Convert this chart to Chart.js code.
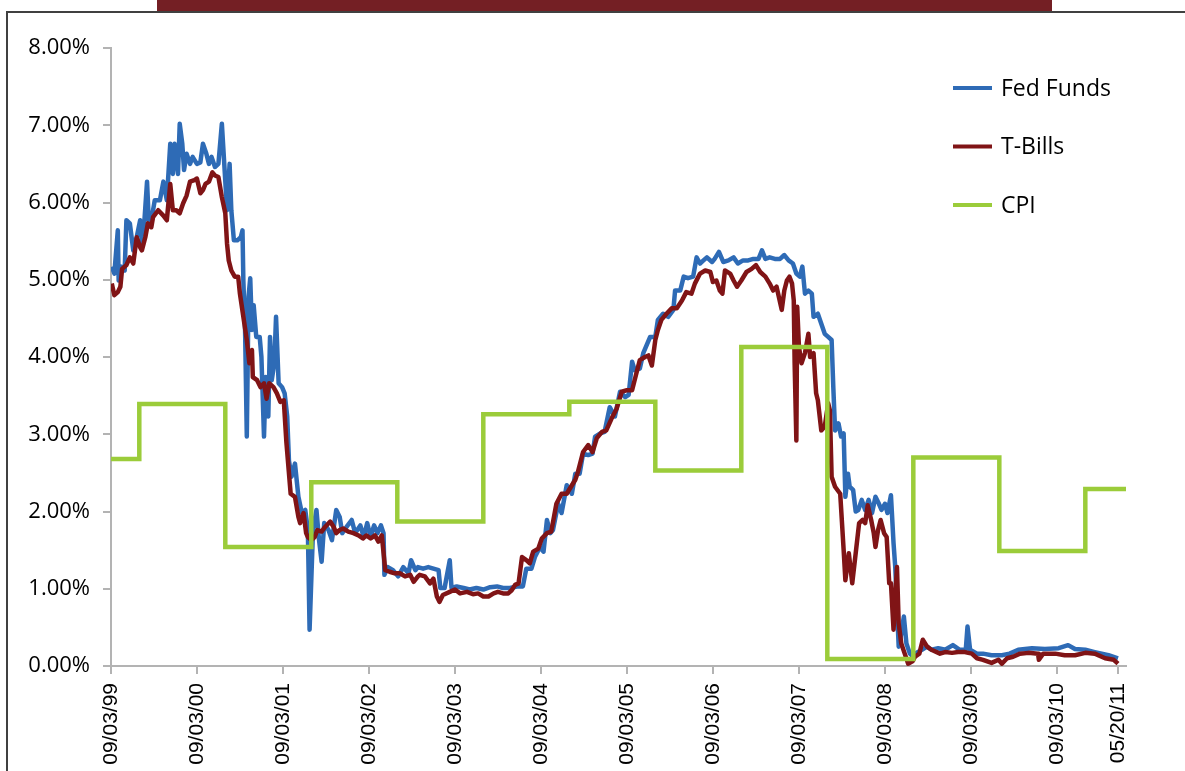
<!DOCTYPE html>
<html>
<head>
<meta charset="utf-8">
<title>Fed Funds, T-Bills and CPI</title>
<script src="https://cdn.jsdelivr.net/npm/chart.js@4.4.1/dist/chart.umd.min.js"></script>
<style>
  html, body { margin: 0; padding: 0; background: #fff; }
  #wrap { position: relative; width: 1185px; height: 771px; overflow: hidden; }
  #header { position: absolute; left: 157px; top: 0; width: 895px; height: 11px; background: #741f24; }
  #frame { position: absolute; left: 6px; top: 11px; width: 1200px; height: 800px;
           border-top: 2px solid #404040; border-left: 2px solid #404040; }
  #chart { position: absolute; left: 0; top: 0; }
</style>
</head>
<body>
<div id="wrap">
  <div id="header"></div>
  <div id="frame"></div>
  <canvas id="chart" width="1185" height="771"></canvas>
</div>
<script>
// time is in decimal years (09/03/99 = 1999.671)
const tickYears = [1999.671, 2000.671, 2001.671, 2002.671, 2003.671, 2004.671, 2005.671,
                   2006.671, 2007.671, 2008.671, 2009.671, 2010.671, 2011.381];
const tickLabels = ['09/03/99', '09/03/00', '09/03/01', '09/03/02', '09/03/03', '09/03/04', '09/03/05',
                    '09/03/06', '09/03/07', '09/03/08', '09/03/09', '09/03/10', '05/20/11'];

const fedYears = [
  1999.68, 1999.71, 1999.75, 1999.76, 1999.79, 1999.83, 1999.85, 1999.89, 1999.93, 1999.97,
  2000.01, 2000.03, 2000.06, 2000.09, 2000.11, 2000.14, 2000.18, 2000.24, 2000.28, 2000.32,
  2000.36, 2000.39, 2000.41, 2000.45, 2000.47, 2000.50, 2000.52, 2000.55, 2000.59, 2000.62,
  2000.67, 2000.71, 2000.74, 2000.78, 2000.81, 2000.84, 2000.88, 2000.92, 2000.96, 2000.99,
  2001.02, 2001.05, 2001.07, 2001.10, 2001.14, 2001.18, 2001.20, 2001.21, 2001.23, 2001.25,
  2001.27, 2001.29, 2001.31, 2001.33, 2001.36, 2001.40, 2001.42, 2001.45, 2001.47, 2001.50,
  2001.52, 2001.54, 2001.57, 2001.59, 2001.62, 2001.66, 2001.69, 2001.72, 2001.74, 2001.77,
  2001.81, 2001.85, 2001.89, 2001.93, 2001.96, 2001.98, 2002.02, 2002.06, 2002.09, 2002.12,
  2002.15, 2002.20, 2002.24, 2002.29, 2002.33, 2002.36, 2002.41, 2002.47, 2002.51, 2002.57,
  2002.61, 2002.65, 2002.69, 2002.73, 2002.77, 2002.81, 2002.84, 2002.85, 2002.89, 2002.95,
  2003.01, 2003.07, 2003.13, 2003.16, 2003.21, 2003.24, 2003.30, 2003.36, 2003.42, 2003.48,
  2003.50, 2003.55, 2003.61, 2003.63, 2003.69, 2003.77, 2003.84, 2003.92, 2004.00, 2004.08,
  2004.16, 2004.23, 2004.31, 2004.39, 2004.46, 2004.50, 2004.56, 2004.60, 2004.66, 2004.70,
  2004.74, 2004.78, 2004.81, 2004.87, 2004.91, 2004.97, 2005.03, 2005.07, 2005.12, 2005.16,
  2005.22, 2005.27, 2005.30, 2005.36, 2005.41, 2005.47, 2005.53, 2005.59, 2005.65, 2005.69,
  2005.73, 2005.76, 2005.82, 2005.86, 2005.94, 2006.00, 2006.03, 2006.09, 2006.15, 2006.21,
  2006.23, 2006.29, 2006.33, 2006.38, 2006.44, 2006.48, 2006.52, 2006.56, 2006.60, 2006.66,
  2006.69, 2006.74, 2006.79, 2006.85, 2006.91, 2006.96, 2007.02, 2007.08, 2007.14, 2007.20,
  2007.24, 2007.28, 2007.33, 2007.39, 2007.45, 2007.50, 2007.55, 2007.60, 2007.64, 2007.68,
  2007.71, 2007.74, 2007.78, 2007.82, 2007.84, 2007.89, 2007.93, 2007.97, 2008.01, 2008.05,
  2008.07, 2008.09, 2008.13, 2008.16, 2008.19, 2008.21, 2008.24, 2008.26, 2008.30, 2008.33,
  2008.36, 2008.40, 2008.44, 2008.48, 2008.52, 2008.56, 2008.60, 2008.63, 2008.67, 2008.70,
  2008.74, 2008.77, 2008.79, 2008.83, 2008.86, 2008.89, 2008.92, 2008.96, 2009.00, 2009.02,
  2009.10, 2009.16, 2009.21, 2009.29, 2009.37, 2009.46, 2009.54, 2009.61, 2009.63, 2009.66,
  2009.74, 2009.81, 2009.91, 2010.03, 2010.12, 2010.22, 2010.38, 2010.53, 2010.69, 2010.80,
  2010.88, 2011.00, 2011.11, 2011.19, 2011.27, 2011.38
];
const fedRates = [
  5.17, 5.08, 5.64, 4.99, 5.17, 5.12, 5.77, 5.73, 5.38, 5.55,
  5.77, 5.47, 5.77, 6.27, 5.77, 5.77, 6.03, 6.03, 6.27, 6.03,
  6.76, 6.37, 6.76, 6.37, 7.02, 6.76, 6.42, 6.63, 6.50, 6.59,
  6.50, 6.52, 6.76, 6.63, 6.50, 6.59, 6.46, 6.50, 7.02, 6.46,
  5.90, 6.50, 5.90, 5.51, 5.51, 5.55, 5.64, 4.99, 4.35, 2.97,
  4.78, 5.02, 4.35, 4.67, 4.26, 4.26, 4.00, 2.97, 3.74, 3.23,
  4.26, 3.70, 3.92, 4.52, 3.66, 3.61, 3.53, 3.23, 2.66, 2.45,
  2.62, 2.19, 1.98, 2.02, 1.76, 0.47, 1.76, 2.02, 1.63, 1.35,
  1.85, 1.76, 1.63, 2.02, 1.93, 1.72, 1.80, 1.89, 1.72, 1.82,
  1.67, 1.85, 1.67, 1.82, 1.72, 1.82, 1.72, 1.18, 1.28, 1.24,
  1.16, 1.28, 1.20, 1.37, 1.24, 1.28, 1.26, 1.28, 1.26, 1.24,
  1.01, 1.01, 1.37, 1.01, 1.03, 1.01, 0.99, 1.01, 0.99, 1.02,
  1.03, 1.01, 1.01, 1.03, 1.03, 1.26, 1.26, 1.41, 1.54, 1.48,
  1.89, 1.72, 1.76, 2.10, 1.98, 2.34, 2.23, 2.49, 2.49, 2.75,
  2.73, 2.75, 2.97, 3.01, 3.03, 3.35, 3.23, 3.55, 3.48, 3.51,
  3.94, 3.83, 3.85, 4.05, 4.26, 4.26, 4.48, 4.56, 4.52, 4.61,
  4.86, 4.86, 5.04, 5.02, 5.04, 5.29, 5.21, 5.25, 5.29, 5.23,
  5.27, 5.36, 5.23, 5.25, 5.29, 5.21, 5.25, 5.25, 5.27, 5.27,
  5.38, 5.27, 5.29, 5.27, 5.27, 5.32, 5.25, 5.21, 5.08, 5.04,
  5.17, 4.82, 4.86, 4.82, 4.52, 4.56, 4.43, 4.30, 4.26, 4.22,
  3.60, 3.05, 3.14, 2.97, 3.01, 2.19, 2.49, 2.32, 2.28, 2.00,
  2.02, 2.15, 2.02, 2.15, 1.98, 2.19, 2.10, 2.02, 2.10, 1.98,
  2.21, 1.59, 1.28, 0.25, 0.42, 0.64, 0.29, 0.16, 0.12, 0.16,
  0.21, 0.25, 0.21, 0.23, 0.21, 0.27, 0.21, 0.21, 0.51, 0.21,
  0.16, 0.16, 0.14, 0.14, 0.16, 0.21, 0.23, 0.22, 0.23, 0.27,
  0.22, 0.21, 0.18, 0.16, 0.14, 0.10
];

const tbillYears = [
  1999.68, 1999.71, 1999.75, 1999.78, 1999.80, 1999.85, 1999.89, 1999.93, 1999.97, 2000.01,
  2000.03, 2000.07, 2000.10, 2000.14, 2000.16, 2000.22, 2000.28, 2000.32, 2000.36, 2000.39,
  2000.43, 2000.47, 2000.51, 2000.55, 2000.59, 2000.64, 2000.67, 2000.71, 2000.74, 2000.77,
  2000.81, 2000.85, 2000.88, 2000.92, 2000.96, 2001.00, 2001.02, 2001.04, 2001.07, 2001.11,
  2001.15, 2001.17, 2001.21, 2001.25, 2001.28, 2001.31, 2001.32, 2001.37, 2001.41, 2001.45,
  2001.48, 2001.51, 2001.56, 2001.60, 2001.64, 2001.68, 2001.71, 2001.76, 2001.81, 2001.85,
  2001.87, 2001.91, 2001.94, 2001.96, 2002.00, 2002.04, 2002.07, 2002.12, 2002.16, 2002.22,
  2002.26, 2002.29, 2002.33, 2002.37, 2002.43, 2002.49, 2002.55, 2002.60, 2002.64, 2002.69,
  2002.74, 2002.78, 2002.82, 2002.86, 2002.91, 2002.97, 2003.03, 2003.09, 2003.15, 2003.19,
  2003.24, 2003.26, 2003.32, 2003.38, 2003.42, 2003.46, 2003.49, 2003.53, 2003.61, 2003.67,
  2003.73, 2003.81, 2003.88, 2003.94, 2004.00, 2004.06, 2004.12, 2004.17, 2004.23, 2004.29,
  2004.33, 2004.37, 2004.41, 2004.45, 2004.50, 2004.54, 2004.58, 2004.64, 2004.68, 2004.74,
  2004.79, 2004.85, 2004.91, 2004.97, 2005.03, 2005.07, 2005.10, 2005.16, 2005.22, 2005.27,
  2005.32, 2005.38, 2005.43, 2005.49, 2005.55, 2005.61, 2005.67, 2005.73, 2005.78, 2005.82,
  2005.88, 2005.92, 2005.96, 2006.00, 2006.03, 2006.07, 2006.13, 2006.19, 2006.25, 2006.31,
  2006.36, 2006.42, 2006.46, 2006.52, 2006.58, 2006.64, 2006.67, 2006.71, 2006.75, 2006.78,
  2006.81, 2006.87, 2006.91, 2006.95, 2007.00, 2007.06, 2007.12, 2007.17, 2007.22, 2007.28,
  2007.33, 2007.37, 2007.41, 2007.44, 2007.47, 2007.50, 2007.53, 2007.56, 2007.59, 2007.61,
  2007.62, 2007.64, 2007.65, 2007.67, 2007.70, 2007.74, 2007.78, 2007.80, 2007.84, 2007.87,
  2007.89, 2007.93, 2007.97, 2008.01, 2008.03, 2008.05, 2008.09, 2008.15, 2008.19, 2008.21,
  2008.25, 2008.29, 2008.33, 2008.37, 2008.41, 2008.44, 2008.47, 2008.51, 2008.54, 2008.56,
  2008.59, 2008.62, 2008.66, 2008.69, 2008.72, 2008.74, 2008.77, 2008.79, 2008.81, 2008.83,
  2008.86, 2008.90, 2008.94, 2008.99, 2009.02, 2009.07, 2009.11, 2009.16, 2009.21, 2009.31,
  2009.37, 2009.45, 2009.52, 2009.60, 2009.68, 2009.74, 2009.81, 2009.91, 2009.99, 2010.03,
  2010.09, 2010.16, 2010.24, 2010.34, 2010.45, 2010.46, 2010.51, 2010.65, 2010.76, 2010.88,
  2011.00, 2011.11, 2011.23, 2011.33, 2011.38
];
const tbillRates = [
  4.95, 4.80, 4.84, 4.91, 5.14, 5.19, 5.29, 5.21, 5.55, 5.42,
  5.38, 5.55, 5.73, 5.68, 5.81, 5.90, 5.83, 5.77, 6.24, 5.90,
  5.90, 5.86, 5.99, 6.09, 6.27, 6.29, 6.31, 6.12, 6.16, 6.24,
  6.27, 6.39, 6.35, 6.33, 6.07, 5.86, 5.47, 5.25, 5.12, 5.04,
  5.04, 4.82, 4.52, 4.22, 3.92, 4.09, 3.74, 3.70, 3.61, 3.66,
  3.46, 3.66, 3.61, 3.53, 3.42, 3.44, 2.90, 2.23, 2.19, 1.93,
  1.85, 1.98, 1.72, 1.67, 1.63, 1.67, 1.76, 1.74, 1.80, 1.87,
  1.80, 1.72, 1.76, 1.78, 1.74, 1.72, 1.69, 1.65, 1.69, 1.65,
  1.69, 1.61, 1.69, 1.24, 1.22, 1.20, 1.20, 1.16, 1.18, 1.09,
  1.16, 1.18, 1.16, 1.07, 1.13, 0.90, 0.83, 0.92, 0.96, 0.99,
  0.94, 0.96, 0.93, 0.94, 0.90, 0.90, 0.94, 0.96, 0.94, 0.94,
  0.98, 1.05, 1.07, 1.41, 1.37, 1.33, 1.48, 1.52, 1.65, 1.72,
  1.74, 2.10, 2.23, 2.23, 2.34, 2.41, 2.51, 2.77, 2.86, 2.77,
  2.95, 3.03, 3.05, 3.20, 3.33, 3.55, 3.57, 3.57, 3.79, 3.96,
  4.00, 4.02, 3.89, 4.22, 4.35, 4.48, 4.56, 4.63, 4.63, 4.73,
  4.84, 4.82, 4.95, 5.08, 5.12, 5.10, 4.97, 4.99, 4.86, 4.82,
  5.12, 5.08, 4.99, 4.91, 4.99, 5.10, 5.14, 5.19, 5.10, 5.04,
  4.95, 4.86, 4.91, 4.76, 4.61, 4.86, 4.99, 5.04, 4.95, 4.73,
  3.92, 2.92, 4.65, 4.13, 3.92, 4.05, 4.30, 4.00, 4.05, 3.53,
  3.44, 3.05, 3.10, 3.40, 3.31, 2.45, 2.32, 2.23, 1.50, 1.11,
  1.46, 1.07, 1.46, 1.85, 1.89, 1.85, 2.08, 1.89, 1.72, 1.54,
  1.76, 1.89, 1.72, 1.67, 1.07, 1.07, 0.47, 0.90, 1.28, 0.55,
  0.29, 0.16, 0.03, 0.06, 0.12, 0.16, 0.34, 0.25, 0.21, 0.16,
  0.18, 0.17, 0.18, 0.18, 0.16, 0.10, 0.08, 0.04, 0.08, 0.03,
  0.10, 0.12, 0.16, 0.17, 0.16, 0.08, 0.16, 0.16, 0.14, 0.14,
  0.17, 0.16, 0.10, 0.08, 0.03
];

// annual CPI, held from each January until the next
const cpiYears = [1999.671, 2000, 2001, 2002, 2003, 2004, 2005, 2006, 2007, 2008, 2009, 2010, 2011, 2011.473];
const cpiRates = [2.68, 3.39, 1.54, 2.38, 1.87, 3.26, 3.42, 2.53, 4.13, 0.09, 2.70, 1.49, 2.29, 2.29];

function toPoints(xs, ys) {
  return xs.map((x, i) => ({ x: x, y: ys[i] }));
}

// legend drawn inside the plot, top right
const insideLegend = {
  id: 'insideLegend',
  afterDatasetsDraw(chart) {
    const ctx = chart.ctx;
    ctx.save();
    ctx.font = '23px "Open Sans"';
    ctx.textBaseline = 'middle';
    ctx.textAlign = 'left';
    chart.data.datasets.forEach((ds, i) => {
      const y = 88 + i * 58.5;
      ctx.strokeStyle = ds.borderColor;
      ctx.lineWidth = 4;
      ctx.beginPath();
      ctx.moveTo(953, y);
      ctx.lineTo(992, y);
      ctx.stroke();
      ctx.fillStyle = '#000';
      ctx.fillText(ds.label, 1001, y + 1);
    });
    ctx.restore();
  }
};

const axisGrey = '#b3b3b3';

new Chart(document.getElementById('chart'), {
  type: 'line',
  data: {
    datasets: [
      {
        label: 'Fed Funds',
        data: toPoints(fedYears, fedRates),
        borderColor: '#2e6bb6',
        borderWidth: 4.5,
        borderJoinStyle: 'round',
        pointRadius: 0,
        order: 3
      },
      {
        label: 'T-Bills',
        data: toPoints(tbillYears, tbillRates),
        borderColor: '#801416',
        borderWidth: 4.5,
        borderJoinStyle: 'round',
        pointRadius: 0,
        order: 2
      },
      {
        label: 'CPI',
        data: toPoints(cpiYears, cpiRates),
        borderColor: '#9bcc3a',
        borderWidth: 4.5,
        stepped: 'before',
        pointRadius: 0,
        order: 1
      }
    ]
  },
  options: {
    responsive: false,
    animation: false,
    devicePixelRatio: 1,
    layout: { padding: { left: 0, top: 48, right: 59, bottom: 0 } },
    plugins: {
      legend: { display: false },
      tooltip: { enabled: false }
    },
    scales: {
      x: {
        type: 'linear',
        min: 1999.671,
        max: 2011.473,
        afterBuildTicks: (scale) => {
          scale.ticks = tickYears.map(v => ({ value: v }));
        },
        afterFit: (scale) => { scale.height = 105; },
        border: { display: true, color: axisGrey, width: 2 },
        grid: { drawOnChartArea: false, drawTicks: true, tickLength: 8, color: axisGrey, lineWidth: 2 },
        ticks: {
          autoSkip: false,
          minRotation: 90,
          maxRotation: 90,
          padding: 9,
          color: '#000',
          font: { family: '"Liberation Sans", Arial, sans-serif', size: 21 },
          callback: (value, index) => tickLabels[index]
        }
      },
      y: {
        min: 0,
        max: 8,
        afterFit: (scale) => { scale.width = 111; },
        border: { display: true, color: axisGrey, width: 2 },
        grid: { drawOnChartArea: false, drawTicks: true, tickLength: 8, color: axisGrey, lineWidth: 2 },
        ticks: {
          stepSize: 1,
          padding: 13,
          color: '#000',
          font: { family: '"Open Sans", sans-serif', size: 22 },
          callback: (value) => value.toFixed(2) + '%'
        }
      }
    }
  },
  plugins: [insideLegend]
});
</script>
</body>
</html>
